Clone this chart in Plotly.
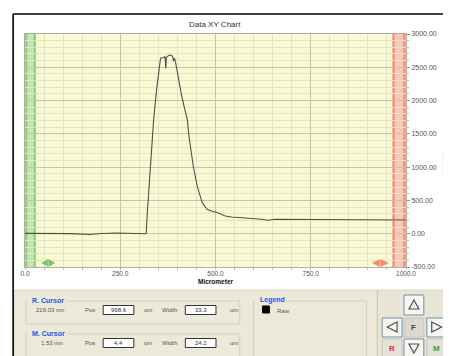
import plotly.graph_objects as go

# ---- data ----
micrometer = [0, 40, 80, 120, 171, 200, 240, 280, 317, 318, 320.8, 327, 337.7, 345.5, 352, 355.8,
              362.9, 367.5, 369.6, 370.9, 378.4, 385.1, 388.3, 389.6, 390.9, 394, 398.7, 404.4,
              410.4, 417.4, 425.9, 430.3, 436.4, 441.6, 451.9, 464.9, 477.9, 490.9, 508.3, 525.4,
              542.9, 568.8, 594.8, 620.8, 638.2, 655.3, 698.7, 750.6, 802.6, 871.9, 958.4, 1000]
nanometer = [5, 3, 0, 2, -12, 4, 10, 8, 3, 0, 292, 818, 1718, 2168, 2468, 2640,
             2643, 2663, 2483, 2648, 2685, 2678, 2648, 2588, 2640, 2610, 2468, 2268,
             2093, 1917, 1718, 1467, 1193, 1017, 717, 468, 368, 338, 311, 267,
             252, 236, 228, 218, 203, 218, 218, 207, 218, 207, 207, 207]
x_ticks = [0, 250, 500, 750, 1000]
y_ticks = [-500, 0, 500, 1000, 1500, 2000, 2500, 3000]
r_cursor = {"value": "216.03 nm", "pos": "998.6", "width": "33.3"}
m_cursor = {"value": "1.53 nm", "pos": "4.4", "width": "24.2"}

# page body has an 8px margin: the figure starts at (8, 8) of the window
OFF = 8
W, H = 451 - OFF, 356 - OFF
L, R, T, B = 21 - OFF, 45, 34 - OFF, 89
PW, PH = W - L - R, H - T - B
FONT = "Liberation Sans, Arial, sans-serif"


def px(x):  # x in window pixels
    return (x - 21) / PW


def py(y):  # y in window pixels
    return (267 - y) / PH


shapes = []
annotations = []


def rect(x0, y0, x1, y1, fill=None, line=None, lw=1, layer="below"):
    shapes.append(dict(type="rect", xref="paper", yref="paper",
                       x0=px(x0), x1=px(x1), y0=py(y1), y1=py(y0),
                       fillcolor=fill if fill else "rgba(0,0,0,0)",
                       line=dict(color=line if line else "rgba(0,0,0,0)", width=lw if line else 0),
                       layer=layer))


def line(x0, y0, x1, y1, color, lw=1, layer="above"):
    shapes.append(dict(type="line", xref="paper", yref="paper",
                       x0=px(x0), x1=px(x1), y0=py(y0), y1=py(y1),
                       line=dict(color=color, width=lw), layer=layer))


def poly(pts, fill=None, color="#404040", lw=1):
    d = "M " + " L ".join(f"{px(a):.5f},{py(b):.5f}" for a, b in pts) + " Z"
    shapes.append(dict(type="path", xref="paper", yref="paper", path=d,
                       fillcolor=fill if fill else "rgba(0,0,0,0)",
                       line=dict(color=color, width=lw), layer="above"))


def text(x, y, s, size=6, color="#444", bold=False, anchor="left", angle=0):
    if bold:
        s = f"<b>{s}</b>"
    annotations.append(dict(xref="paper", yref="paper", x=px(x), y=py(y), text=s,
                            showarrow=False, xanchor=anchor, yanchor="middle",
                            textangle=angle,
                            font=dict(family=FONT, size=size, color=color)))


# cursor bands (data coordinates)
shapes.append(dict(type="rect", xref="x", yref="paper", x0=0, x1=28.6, y0=0, y1=1,
                   fillcolor="#c4e6b4", line=dict(width=0), layer="below"))
for xv in (3.5, 25.5):
    shapes.append(dict(type="rect", xref="x", yref="paper", x0=xv - 2.5, x1=xv + 2.5, y0=0, y1=1,
                       fillcolor="#8ac878", line=dict(width=0), layer="below"))
shapes.append(dict(type="rect", xref="x", yref="paper", x0=964, x1=1000, y0=0, y1=1,
                   fillcolor="#f8c8b8", line=dict(width=0), layer="below"))
for xv in (967.5, 995.5):
    shapes.append(dict(type="rect", xref="x", yref="paper", x0=xv - 3, x1=xv + 3, y0=0, y1=1,
                       fillcolor="#f2907a", line=dict(width=0), layer="below"))

# cursor arrows
for (xa, xb, col) in ((38, 51, "#7cc06a"), (372, 388, "#f08a72")):
    mid = (xa + xb) / 2
    poly([(xa, 263), (mid - 0.5, 259.5), (mid - 0.5, 266.5)], fill=col, color=col, lw=0.5)
    poly([(xb, 263), (mid + 0.5, 259.5), (mid + 0.5, 266.5)], fill=col, color=col, lw=0.5)

# outer frame
line(9, 14, 451, 14, "#000", 1.6)
line(9, 14, 9, 356, "#000", 1.6)

# bottom panel
rect(10, 290, 451, 357, fill="#ece9d8", line="#d8d4c4", layer="below")
line(377, 290, 377, 356, "#c8c4b0", 1)
rect(378, 291, 451, 357, fill="#e8e5d4", layer="below")

# group boxes
rect(22, 301, 238, 324, line="#d4d0c0")
rect(22, 334, 238, 358, line="#d4d0c0")
rect(252, 301, 366, 358, line="#d4d0c0")
rect(24, 296, 63, 304, fill="#ece9d8", layer="above")
rect(24, 329, 64, 337, fill="#ece9d8", layer="above")
rect(254, 296, 286, 304, fill="#ece9d8", layer="above")

BLUE = "#2255dd"
text(26, 300, "R. Cursor", 7, BLUE, True)
text(26, 333, "M. Cursor", 7, BLUE, True)
text(256, 300, "Legend", 7, BLUE, True)

for row_y, cur, vx in ((310, r_cursor, 30), (343, m_cursor, 35)):
    text(vx, row_y, cur["value"], 6, "#555")
    text(80, row_y, "Pos", 6, "#555")
    rect(100, row_y - 4.5, 131, row_y + 4.5, fill="#ffffff", line="#333", lw=1, layer="above")
    text(115.5, row_y, cur["pos"], 6, "#333", anchor="center")
    text(139, row_y, "um", 6, "#555")
    text(157, row_y, "Width", 6, "#555")
    rect(183, row_y - 4.5, 214, row_y + 4.5, fill="#ffffff", line="#333", lw=1, layer="above")
    text(198.5, row_y, cur["width"], 6, "#333", anchor="center")
    text(226, row_y, "um", 6, "#555")

# legend entry
rect(261, 306, 268, 313, fill="#000", line="#000", layer="above")
text(274, 311, "Raw", 6, "#555")

# buttons
BTN = "#6f8db0"
rect(404, 295, 424, 315, fill="#f6f6f2", line=BTN, layer="above")
rect(382, 318, 402, 337, fill="#f6f6f2", line=BTN, layer="above")
rect(404, 318, 424, 337, fill="#dcdad0", line="#c8c6bc", layer="above")
rect(427, 318, 447, 337, fill="#f6f6f2", line=BTN, layer="above")
rect(382, 339, 402, 358, fill="#e4e2d8", line="#c8c6bc", layer="above")
rect(404, 339, 424, 358, fill="#f6f6f2", line=BTN, layer="above")
rect(427, 339, 447, 358, fill="#e4e2d8", line="#c8c6bc", layer="above")
poly([(414, 300), (409, 309), (419, 309)], color="#505050", lw=1.2)
poly([(387, 327), (397, 322), (397, 332)], color="#505050", lw=1.2)
poly([(442, 327), (432, 322), (432, 332)], color="#505050", lw=1.2)
poly([(414, 353), (409, 344), (419, 344)], color="#505050", lw=1.2)
text(414, 327.5, "F", 8, "#444", True, "center")
text(392, 348.5, "R", 8, "#e03030", True, "center")
text(437, 348.5, "M", 8, "#30a030", True, "center")

# chart titles
text(212.5, 24, "Data XY Chart", 8, "#333", anchor="center")
text(213.5, 281.5, "Micrometer", 6.5, "#111", True, "center")
text(446, 165, "Nanometer", 6.5, "#000", True, "center", angle=90)

fig = go.Figure()
fig.add_trace(go.Scatter(x=micrometer, y=nanometer, mode="lines",
                         line=dict(color="#505048", width=1.1), hoverinfo="skip"))

GRID_MAJ = "#c4c4b4"
GRID_MIN = "#e4e4cc"
fig.update_layout(
    width=W, height=H,
    margin=dict(l=L, r=R, t=T, b=B),
    paper_bgcolor="#ffffff",
    plot_bgcolor="#fafad2",
    showlegend=False,
    font=dict(family=FONT, size=7, color="#444"),
    shapes=shapes,
    annotations=annotations,
    xaxis=dict(range=[0, 1000], tickvals=x_ticks, ticktext=[f"{v:.1f}" for v in x_ticks],
               showgrid=True, gridcolor=GRID_MAJ, gridwidth=1,
               minor=dict(dtick=50, showgrid=True, gridcolor=GRID_MIN, gridwidth=1,
                          ticks="outside", ticklen=2, tickcolor="#bbb"),
               ticks="", ticklen=0,
               showline=True, linecolor="#b0b0a0", linewidth=1, mirror=True,
               zeroline=False, fixedrange=True, tickfont=dict(size=6.5, color="#555")),
    yaxis=dict(range=[-500, 3000], side="right", tickvals=y_ticks,
               ticktext=[f"{v:.2f}" for v in y_ticks],
               showgrid=True, gridcolor=GRID_MAJ, gridwidth=1,
               minor=dict(dtick=100, showgrid=True, gridcolor=GRID_MIN, gridwidth=1,
                          ticks="outside", ticklen=2, tickcolor="#bbb"),
               ticks="outside", ticklen=3, tickcolor="#999",
               showline=True, linecolor="#b0b0a0", linewidth=1, mirror=True,
               zeroline=False, fixedrange=True, tickfont=dict(size=7, color="#555")),
)

fig.write_html("out.html", config={"displayModeBar": False})
